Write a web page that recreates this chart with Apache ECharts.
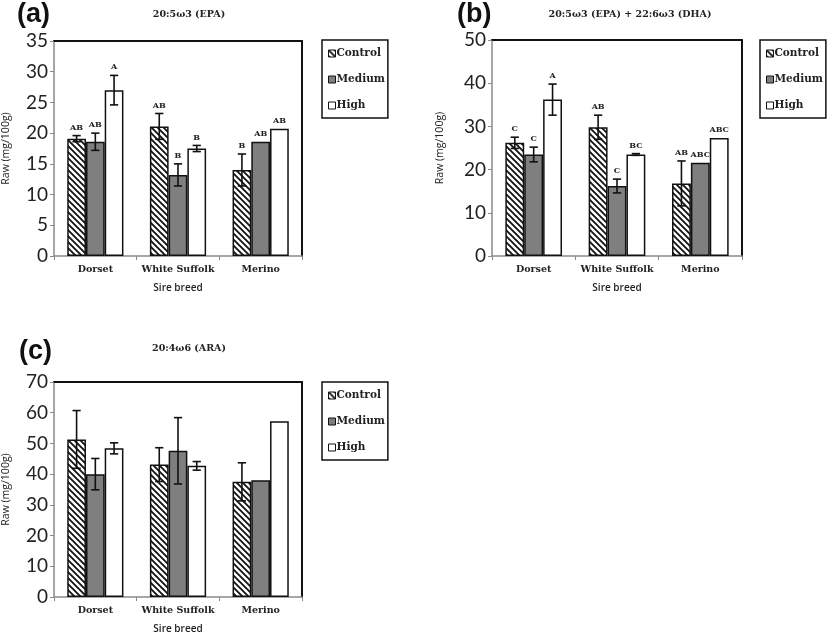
<!DOCTYPE html>
<html><head><meta charset="utf-8">
<script src="https://cdn.jsdelivr.net/npm/echarts@6/dist/echarts.min.js"></script>
<style>html,body{margin:0;padding:0;background:#fff}#c{width:827px;height:635px}</style>
</head><body><div id="c"></div>
<script>
const categories = ['Dorset', 'White Suffolk', 'Merino'];
const treatments = ['Control', 'Medium', 'High'];
const yTicksA = [0, 35, 5];
const yTicksB = [0, 50, 10];
const yTicksC = [0, 70, 10];

// (a) 20:5ω3 (EPA)
const epaControl = [19.1, 21.1, 14.0];
const epaControlErr = [0.5, 2.1, 2.6];
const epaMedium = [18.6, 13.2, 18.6];
const epaMediumErr = [1.4, 1.8, 0];
const epaHigh = [27.0, 17.5, 20.7];
const epaHighErr = [2.4, 0.5, 0];
const epaControlLetters = ['AB', 'AB', 'B'];
const epaMediumLetters = ['AB', 'B', 'AB'];
const epaHighLetters = ['A', 'B', 'AB'];

// (b) EPA + DHA
const dhaControl = [26.2, 29.8, 16.8];
const dhaControlErr = [1.3, 2.8, 5.2];
const dhaMedium = [23.5, 16.2, 21.6];
const dhaMediumErr = [1.7, 1.6, 0];
const dhaHigh = [36.2, 23.5, 27.3];
const dhaHighErr = [3.6, 0.2, 0];
const dhaControlLetters = ['C', 'AB', 'AB'];
const dhaMediumLetters = ['C', 'C', 'ABC'];
const dhaHighLetters = ['A', 'BC', 'ABC'];

// (c) 20:4ω6 (ARA)
const araControl = [51.3, 43.1, 37.5];
const araControlErr = [9.4, 5.5, 6.2];
const araMedium = [40.0, 47.6, 38.0];
const araMediumErr = [5.1, 10.8, 0];
const araHigh = [48.4, 42.7, 57.2];
const araHighErr = [1.8, 1.4, 0];
const araControlLetters = ['', '', ''];
const araMediumLetters = ['', '', ''];
const araHighLetters = ['', '', ''];

// hatch pattern
const hc = document.createElement('canvas');
hc.width = 6; hc.height = 6;
const hx = hc.getContext('2d');
hx.fillStyle = '#fff'; hx.fillRect(0, 0, 6, 6);
hx.strokeStyle = '#111'; hx.lineWidth = 1.8;
hx.beginPath();
hx.moveTo(-1, -1); hx.lineTo(7, 7);
hx.moveTo(5, -1); hx.lineTo(7, 1);
hx.moveTo(-1, 5); hx.lineTo(1, 7);
hx.stroke();
const hatch = { image: hc, repeat: 'repeat' };
const fills = [hatch, '#7f7f7f', '#ffffff'];

const CAT_GAP = 0.32;
const serif = 'DejaVu Serif';
const sans = 'Open Sans';

const panels = [
  { grid: { left: 52, top: 41, width: 250, height: 215 }, yt: yTicksA, title: '20:5ω3 (EPA)', tx: 184, ty: 5, label: '(a)', lx: 12, ly: -4,
    vals: [epaControl, epaMedium, epaHigh], errs: [epaControlErr, epaMediumErr, epaHighErr], lets: [epaControlLetters, epaMediumLetters, epaHighLetters],
    legend: { left: 322, top: 40 }, nameGap: 42 },
  { grid: { left: 492, top: 40, width: 250, height: 216 }, yt: yTicksB, title: '20:5ω3 (EPA) + 22:6ω3 (DHA)', tx: 625, ty: 5, label: '(b)', lx: 452, ly: -4,
    vals: [dhaControl, dhaMedium, dhaHigh], errs: [dhaControlErr, dhaMediumErr, dhaHighErr], lets: [dhaControlLetters, dhaMediumLetters, dhaHighLetters],
    legend: { left: 760, top: 40 }, nameGap: 46 },
  { grid: { left: 53, top: 382, width: 249, height: 215 }, yt: yTicksC, title: '20:4ω6 (ARA)', tx: 184, ty: 339, label: '(c)', lx: 14, ly: 333,
    vals: [araControl, araMedium, araHigh], errs: [araControlErr, araMediumErr, araHighErr], lets: [araControlLetters, araMediumLetters, araHighLetters],
    legend: { left: 322, top: 382 }, nameGap: 42 }
];

const option = {
  animation: false,
  backgroundColor: '#fff',
  title: [], grid: [], xAxis: [], yAxis: [], legend: [], series: []
};

panels.forEach((p, gi) => {
  option.grid.push(Object.assign({ containLabel: false }, p.grid));
  option.title.push({ text: p.title, left: p.tx, top: p.ty, textAlign: 'center',
    textStyle: { fontFamily: serif, fontWeight: 'bold', fontSize: 9.5, color: '#222' } });
  option.title.push({ text: p.label, left: p.lx, top: p.ly,
    textStyle: { fontFamily: 'Liberation Sans', fontWeight: 'bold', fontSize: 27, color: '#111' } });
  option.xAxis.push({
    type: 'category', gridIndex: gi, data: categories, position: 'bottom',
    axisLine: { onZero: false, lineStyle: { color: '#8a8a8a', width: 1.5 } },
    axisTick: { show: true, length: 4, interval: 0, lineStyle: { color: '#8a8a8a' } },
    axisLabel: { fontFamily: serif, fontWeight: 'bold', fontSize: 9.5, color: '#222', margin: 9, interval: 0 },
    name: 'Sire breed', nameLocation: 'middle', nameGap: 27,
    nameTextStyle: { fontFamily: sans, fontSize: 10, color: '#222', fontWeight: 600 }
  });
  option.yAxis.push({
    type: 'value', gridIndex: gi, min: p.yt[0], max: p.yt[1], interval: p.yt[2], position: 'left',
    axisLine: { show: true, onZero: false, lineStyle: { color: '#8a8a8a', width: 1.5 } },
    axisTick: { show: true, length: 4, lineStyle: { color: '#8a8a8a' } },
    splitLine: { show: false },
    axisLabel: { fontFamily: 'Lato', fontSize: 19, color: '#222', margin: 6 },
    name: 'Raw (mg/100g)', nameLocation: 'middle', nameGap: p.nameGap, nameRotate: 90,
    nameTextStyle: { fontFamily: sans, fontSize: 10.5, color: '#222' }
  });
  option.legend.push({
    data: treatments, orient: 'vertical', left: p.legend.left, top: p.legend.top,
    itemWidth: 7, itemHeight: 7, itemGap: 13,
    padding: [7, 3, 6, 6],
    borderColor: '#111', borderWidth: 1.5,
    icon: 'rect',
    itemStyle: { borderColor: '#111', borderWidth: 1 },
    textStyle: { fontFamily: serif, fontWeight: 'bold', fontSize: 10.5, color: '#222', padding: [0, 0, 0, -4], lineHeight: 13 }
  });
});
// frame axes (top and right borders)
panels.forEach((p, gi) => {
  option.xAxis.push({ type: 'category', gridIndex: gi, data: categories, position: 'top',
    axisLine: { show: true, onZero: false, lineStyle: { color: '#111', width: 2 } }, axisTick: { show: false }, axisLabel: { show: false } });
  option.yAxis.push({ type: 'value', gridIndex: gi, min: p.yt[0], max: p.yt[1], interval: p.yt[2], position: 'right',
    axisLine: { show: true, onZero: false, lineStyle: { color: '#111', width: 2 } }, axisTick: { show: false },
    axisLabel: { show: false }, splitLine: { show: false } });
});

panels.forEach((p, gi) => {
  treatments.forEach((t, k) => {
    option.series.push({
      type: 'bar', name: t, xAxisIndex: gi, yAxisIndex: gi,
      data: p.vals[k], barGap: '0%', barCategoryGap: (CAT_GAP * 100) + '%',
      itemStyle: { color: fills[k], borderColor: '#111', borderWidth: 1.5 },
      z: 2
    });
  });
  treatments.forEach((t, k) => {
    const data = categories.map((c, i) => [i, p.vals[k][i], p.errs[k][i], p.lets[k][i]]);
    option.series.push({
      type: 'custom', name: 'err-' + t, xAxisIndex: gi, yAxisIndex: gi, z: 5,
      data: data,
      encode: { x: 0, y: 1 },
      renderItem: function (params, api) {
        const ci = api.value(0), v = api.value(1), e = api.value(2);
        const letter = data[params.dataIndex][3];
        const band = api.size([1, 0])[0];
        const bw = band * (1 - CAT_GAP) / 3;
        const cx = api.coord([ci, 0])[0] + (k - 1) * bw;
        const children = [];
        let topY = api.coord([ci, v])[1];
        if (e > 0) {
          const yt = api.coord([ci, v + e])[1];
          const yb = api.coord([ci, v - e])[1];
          const cap = bw * 0.22;
          const ls = { stroke: '#111', lineWidth: 1.6 };
          children.push({ type: 'line', shape: { x1: cx, y1: yt, x2: cx, y2: yb }, style: ls });
          children.push({ type: 'line', shape: { x1: cx - cap, y1: yt, x2: cx + cap, y2: yt }, style: ls });
          children.push({ type: 'line', shape: { x1: cx - cap, y1: yb, x2: cx + cap, y2: yb }, style: ls });
          topY = yt;
        }
        if (letter) {
          children.push({ type: 'text', style: { text: letter, x: cx, y: topY - 4, align: 'center', verticalAlign: 'bottom',
            font: 'bold 8px "DejaVu Serif"', fill: '#222' } });
        }
        return { type: 'group', children: children };
      }
    });
  });
});

const chart = echarts.init(document.getElementById('c'), null, { renderer: 'canvas' });
chart.setOption(option);
</script></body></html>
